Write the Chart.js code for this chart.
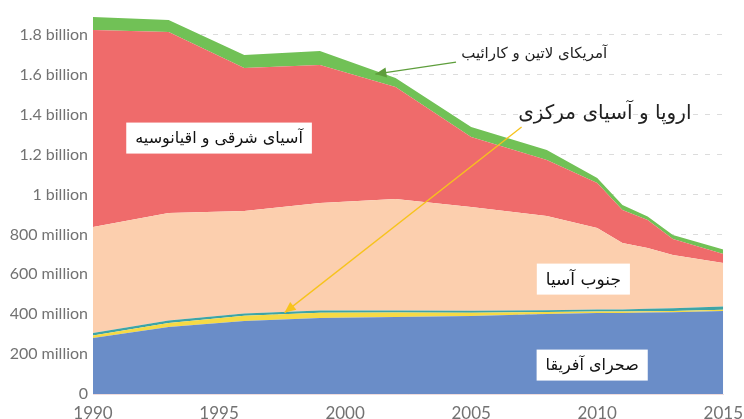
<!DOCTYPE html>
<html>
<head>
<meta charset="utf-8">
<script src="https://cdn.jsdelivr.net/npm/chart.js@4/dist/chart.umd.min.js"></script>
<style>
  html, body { margin: 0; padding: 0; background: #fff; }
  #wrap { width: 744px; height: 419px; position: relative; }
</style>
</head>
<body>
<div id="wrap"><canvas id="poverty-chart"></canvas></div>
<script>
// years with survey estimates
const years = [1990, 1993, 1996, 1999, 2002, 2005, 2008, 2010, 2011, 2012, 2013, 2015];

// people in extreme poverty, millions
const subSaharanAfrica = [281, 336, 366, 381, 386, 391, 401, 406, 406, 408, 410, 416];
const europeCentralAsia = [12, 20, 26, 26, 22, 16, 10, 8, 7, 7, 6, 6];
const middleEastNorthAfrica = [13, 12, 11, 11, 10, 10, 9, 9, 10, 12, 14, 17];
const southAsia = [531, 539, 514, 539, 559, 520, 472, 409, 334, 305, 267, 218];
const eastAsiaPacific = [988, 908, 717, 692, 562, 351, 281, 226, 165, 140, 80, 45];
const latinAmerica = [65, 60, 65, 70, 45, 50, 50, 25, 25, 18, 20, 22];

const yTicks = [0, 200, 400, 600, 800, 1000, 1200, 1400, 1600, 1800];
const xTicks = [1990, 1995, 2000, 2005, 2010, 2015];

// label texts placed in data coordinates [year, millions]
const boxLabels = [
    {text: 'آسیای شرقی و اقیانوسیه', at: [1995.0, 1283], size: 16},
    {text: 'جنوب آسیا', at: [2009.45, 576], size: 17},
    {text: 'صحرای آفریقا', at: [2009.8, 145], size: 16},
];
const arrowLabels = [
    {text: 'آمریکای لاتین و کارائیب', at: [2007.5, 1706], size: 15, color: '#5e9e3c',
     from: [2004.4, 1664], to: [2001.2, 1604]},
    {text: 'اروپا و آسیای مرکزی', at: [2010.3, 1403], size: 20, color: '#f7c31c',
     from: [2007.0, 1338], to: [1997.6, 408]},
];

function series(values) {
    return values.map((v, i) => ({x: years[i], y: v}));
}

const persianFont = '"DejaVu Serif", "DejaVu Sans", serif';

const labelPlugin = {
    id: 'labels',
    afterDatasetsDraw(chart) {
        const {ctx, scales: {x, y}} = chart;
        ctx.save();
        ctx.textBaseline = 'middle';
        ctx.textAlign = 'center';
        ctx.direction = 'rtl';

        boxLabels.forEach(l => {
            const cx = x.getPixelForValue(l.at[0]);
            const cy = y.getPixelForValue(l.at[1]);
            ctx.font = l.size + 'px ' + persianFont;
            const w = ctx.measureText(l.text).width + 18;
            const h = 31;
            ctx.fillStyle = '#fff';
            ctx.fillRect(cx - w / 2, cy - h / 2, w, h);
            ctx.fillStyle = '#111';
            ctx.fillText(l.text, cx, cy + 1);
        });

        arrowLabels.forEach(l => {
            const x1 = x.getPixelForValue(l.from[0]), y1 = y.getPixelForValue(l.from[1]);
            const x2 = x.getPixelForValue(l.to[0]), y2 = y.getPixelForValue(l.to[1]);
            ctx.strokeStyle = l.color;
            ctx.fillStyle = l.color;
            ctx.lineWidth = 1.3;
            ctx.beginPath();
            ctx.moveTo(x1, y1);
            ctx.lineTo(x2, y2);
            ctx.stroke();
            const ang = Math.atan2(y2 - y1, x2 - x1);
            const len = 11, half = 5;
            ctx.beginPath();
            ctx.moveTo(x2, y2);
            ctx.lineTo(x2 - len * Math.cos(ang) + half * Math.sin(ang), y2 - len * Math.sin(ang) - half * Math.cos(ang));
            ctx.lineTo(x2 - len * Math.cos(ang) - half * Math.sin(ang), y2 - len * Math.sin(ang) + half * Math.cos(ang));
            ctx.closePath();
            ctx.fill();

            ctx.font = l.size + 'px ' + persianFont;
            ctx.fillStyle = '#222';
            ctx.fillText(l.text, x.getPixelForValue(l.at[0]), y.getPixelForValue(l.at[1]));
        });
        ctx.restore();
    }
};

function area(label, values, color, fill) {
    return {
        label: label,
        data: series(values),
        backgroundColor: color,
        borderColor: color,
        borderWidth: 0,
        pointRadius: 0,
        fill: fill,
        tension: 0,
    };
}

const ctx = document.getElementById('poverty-chart').getContext('2d');
const povertyChart = new Chart(ctx, {
    type: 'line',
    data: {
        datasets: [
            area('Sub-Saharan Africa', subSaharanAfrica, '#6a8dc8', 'origin'),
            area('Europe & Central Asia', europeCentralAsia, '#f6da45', '-1'),
            area('Middle East & North Africa', middleEastNorthAfrica, '#3ea4a6', '-1'),
            area('South Asia', southAsia, '#fccfae', '-1'),
            area('East Asia & Pacific', eastAsiaPacific, '#ef6b6b', '-1'),
            area('Latin America & Caribbean', latinAmerica, '#71c156', '-1'),
        ]
    },
    options: {
        responsive: true,
        maintainAspectRatio: false,
        animation: false,
        layout: {padding: {top: 15, right: 18, left: 0, bottom: 0}},
        plugins: {
            legend: {display: false},
            tooltip: {enabled: false},
        },
        scales: {
            x: {
                type: 'linear',
                min: 1990,
                max: 2015,
                afterBuildTicks: scale => { scale.ticks = xTicks.map(v => ({value: v})); },
                afterFit: scale => { scale.height = 25; },
                grid: {display: false},
                border: {display: true, color: '#f0dcdc'},
                ticks: {
                    color: '#727272',
                    font: {family: 'Lato', size: 17},
                    padding: 1,
                    maxRotation: 0,
                    callback: v => String(v),
                },
            },
            y: {
                stacked: true,
                min: 0,
                max: 1900,
                afterBuildTicks: scale => { scale.ticks = yTicks.map(v => ({value: v})); },
                afterFit: scale => { scale.width = 93; },
                grid: {color: '#dcdcdc', lineWidth: 1, drawTicks: false},
                border: {display: false, dash: [5, 7]},
                ticks: {
                    color: '#727272',
                    font: {family: 'Lato', size: 16},
                    padding: 5,
                    callback: v => v === 0 ? '0' : (v >= 1000 ? (v / 1000) + ' billion' : v + ' million'),
                },
            },
        },
    },
    plugins: [labelPlugin],
});
</script>
</body>
</html>
